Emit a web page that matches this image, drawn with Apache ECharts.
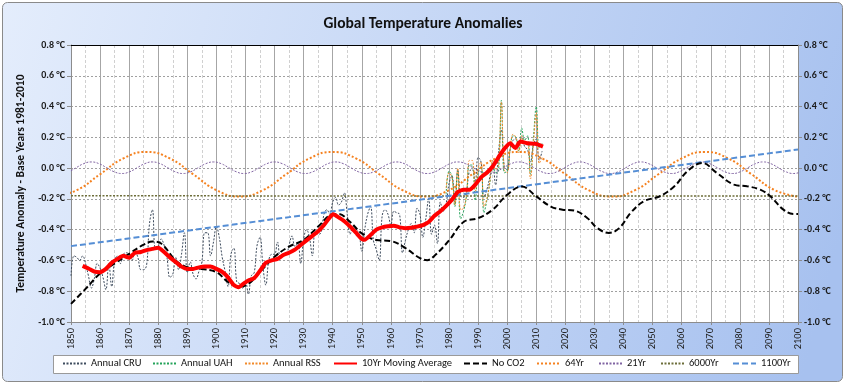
<!DOCTYPE html>
<html><head><meta charset="utf-8">
<script src="https://cdn.jsdelivr.net/npm/echarts@6/dist/echarts.min.js"></script>
<style>html,body{margin:0;padding:0;background:#fff}#c{width:846px;height:386px}</style>
</head><body><div id="c"></div>
<script>
// ---------- DATA ----------
const titleText = 'Global Temperature Anomalies';
const yAxisTitle = 'Temperature Anomaly - Base Years 1981-2010';
const seriesNames = ['Annual CRU','Annual UAH','Annual RSS','10Yr Moving Average','No CO2','64Yr','21Yr','6000Yr','1100Yr'];

const cruStart = 1850;
const cruValues = [
 -0.70,-0.57,-0.58,-0.60,-0.57,-0.62,-0.70,-0.78,-0.72,-0.62,
 -0.65,-0.71,-0.79,-0.62,-0.77,-0.60,-0.57,-0.62,-0.56,-0.55,
 -0.56,-0.60,-0.54,-0.58,-0.66,-0.66,-0.63,-0.36,-0.27,-0.52,
 -0.51,-0.46,-0.50,-0.58,-0.71,-0.69,-0.58,-0.66,-0.56,-0.42,
 -0.68,-0.61,-0.69,-0.72,-0.67,-0.61,-0.42,-0.42,-0.57,-0.48,
 -0.38,-0.45,-0.58,-0.67,-0.77,-0.56,-0.52,-0.74,-0.75,-0.78,
 -0.74,-0.82,-0.70,-0.68,-0.50,-0.45,-0.64,-0.76,-0.60,-0.56,
 -0.56,-0.48,-0.58,-0.56,-0.56,-0.50,-0.44,-0.51,-0.49,-0.62,
 -0.46,-0.40,-0.45,-0.57,-0.41,-0.43,-0.42,-0.30,-0.27,-0.30,
 -0.22,-0.19,-0.24,-0.22,-0.16,-0.30,-0.43,-0.38,-0.40,-0.42,
 -0.54,-0.40,-0.30,-0.25,-0.47,-0.53,-0.60,-0.31,-0.27,-0.30,
 -0.37,-0.28,-0.29,-0.30,-0.55,-0.47,-0.40,-0.36,-0.42,-0.26,
 -0.30,-0.45,-0.33,-0.20,-0.43,-0.37,-0.49,-0.22,-0.28,-0.23,
 -0.10,-0.05,-0.22,-0.01,-0.18,-0.19,-0.15,-0.02,-0.01,-0.09,
 0.07,0.04,-0.19,-0.14,-0.06,0.03,-0.11,0.10,0.25,0.01,
 -0.01,0.12,0.18,0.19,0.16,0.20,0.14,0.12,0.04,0.15,
 0.19,0.05,0.11
];

const satStart = 1979;
const uahValues = [-0.17,-0.02,-0.05,-0.25,-0.02,-0.33,-0.28,-0.18,0.02,0.02,
 -0.21,-0.03,0.01,-0.29,-0.21,-0.10,0.03,-0.03,-0.02,0.44,
 -0.03,-0.02,0.12,0.21,0.20,0.11,0.26,0.18,0.21,-0.04,
 0.19,0.40,0.13,0.16];
const rssValues = [-0.13,-0.03,-0.06,-0.24,0.00,-0.27,-0.26,-0.17,0.05,0.05,
 -0.15,0.00,0.04,-0.25,-0.20,-0.09,0.05,-0.01,0.02,0.43,
 -0.01,-0.03,0.12,0.22,0.20,0.10,0.21,0.16,0.17,-0.07,
 0.15,0.36,0.03,0.07];

const maYears = [1854,1856,1858,1860,1862,1864,1866,1868,1870,1872,1874,1876,1878,1880,1882,1884,1886,1888,1890,1892,1894,1896,1898,1900,1902,1904,1906,1907.7,1909,1911,1913,1915,1917,1919,1921,1923,1925,1927,1929,1931,1933,1935,1937,1939,1940.2,1942,1944,1946,1948,1950,1951,1953,1955,1957,1959,1961,1963,1965,1967,1969,1971,1973,1975,1977,1979,1981,1983,1985,1987,1989,1991,1993,1995,1997,1999,2001,2002.8,2004.5,2006.8,2009.7,2012.3];
const maValues = [-0.635,-0.652,-0.672,-0.676,-0.655,-0.615,-0.59,-0.57,-0.583,-0.55,-0.545,-0.533,-0.525,-0.518,-0.545,-0.58,-0.61,-0.64,-0.655,-0.655,-0.645,-0.64,-0.64,-0.655,-0.675,-0.71,-0.76,-0.774,-0.755,-0.73,-0.715,-0.667,-0.615,-0.60,-0.59,-0.565,-0.55,-0.53,-0.50,-0.47,-0.44,-0.41,-0.37,-0.32,-0.30,-0.32,-0.345,-0.38,-0.42,-0.46,-0.465,-0.435,-0.40,-0.385,-0.378,-0.374,-0.385,-0.39,-0.387,-0.38,-0.37,-0.35,-0.31,-0.28,-0.245,-0.205,-0.155,-0.14,-0.14,-0.108,-0.06,-0.03,0.01,0.07,0.125,0.162,0.13,0.173,0.162,0.158,0.14];

const noCo2Years = [1850,1855,1860,1865,1870,1875,1878,1881,1886,1890,1895,1900,1904,1907.5,1911,1915,1920,1925,1930,1935,1940,1942,1946,1950,1955,1960,1965,1970,1972.5,1975,1980,1985,1990,1995,2000,2005,2010,2015,2019,2023,2027.5,2031,2035,2038.5,2042.5,2047,2052.5,2057.5,2062,2067,2072,2078,2082.5,2087,2090.5,2095,2098.5,2100];
const noCo2Values = [-0.882,-0.785,-0.685,-0.62,-0.557,-0.497,-0.477,-0.49,-0.60,-0.644,-0.655,-0.676,-0.74,-0.77,-0.752,-0.674,-0.576,-0.51,-0.467,-0.38,-0.30,-0.298,-0.35,-0.424,-0.467,-0.474,-0.52,-0.585,-0.598,-0.57,-0.47,-0.35,-0.325,-0.27,-0.173,-0.12,-0.184,-0.25,-0.27,-0.276,-0.324,-0.39,-0.421,-0.39,-0.29,-0.215,-0.183,-0.118,-0.02,0.034,-0.03,-0.107,-0.118,-0.14,-0.183,-0.27,-0.298,-0.298];

// 64-year cycle, read every 8 years starting at the 1844 trough
const cyc64Start = 1844, cyc64Step = 8;
const cyc64Values = [
 -0.185,-0.143,-0.04,0.063,0.105,0.063,-0.04,-0.143,
 -0.185,-0.143,-0.04,0.063,0.105,0.063,-0.04,-0.143,
 -0.185,-0.143,-0.04,0.063,0.105,0.063,-0.04,-0.143,
 -0.185,-0.143,-0.04,0.063,0.105,0.063,-0.04,-0.143,
 -0.185];

// 21-year cycle, read every 2.625 years starting at the 1846.5 trough
const cyc21Start = 1846.5, cyc21Step = 2.625;
const cyc21Values = [
 -0.035,-0.024,0.0025,0.029,0.04,0.029,0.0025,-0.024,
 -0.035,-0.024,0.0025,0.029,0.04,0.029,0.0025,-0.024,
 -0.035,-0.024,0.0025,0.029,0.04,0.029,0.0025,-0.024,
 -0.035,-0.024,0.0025,0.029,0.04,0.029,0.0025,-0.024,
 -0.035,-0.024,0.0025,0.029,0.04,0.029,0.0025,-0.024,
 -0.035,-0.024,0.0025,0.029,0.04,0.029,0.0025,-0.024,
 -0.035,-0.024,0.0025,0.029,0.04,0.029,0.0025,-0.024,
 -0.035,-0.024,0.0025,0.029,0.04,0.029,0.0025,-0.024,
 -0.035,-0.024,0.0025,0.029,0.04,0.029,0.0025,-0.024,
 -0.035,-0.024,0.0025,0.029,0.04,0.029,0.0025,-0.024,
 -0.035,-0.024,0.0025,0.029,0.04,0.029,0.0025,-0.024,
 -0.035,-0.024,0.0025,0.029,0.04,0.029,0.0025,-0.024,
 -0.035,-0.024];

const cyc6000Years = [1850, 2100];
const cyc6000Values = [-0.18, -0.182];
const cyc1100Years = [1850, 2100];
const cyc1100Values = [-0.507, 0.121];

// ---------- LAYOUT / STYLE ----------
const FONT = 'Carlito, "Liberation Sans", Arial, sans-serif';
const legendLefts = [62,152,244,333,463,536,598,660,732];

function seq(start, vals){ return vals.map((v,i)=>[start+i, v]); }
function stepSeq(start, step, vals){ return vals.map((v,i)=>[start+i*step, v]); }
function pairs(xs, ys){ return xs.map((x,i)=>[x, ys[i]]); }

const fmtY = v => (Math.abs(v) < 1e-9 ? 0 : v).toFixed(1) + ' \u00B0C';

const yAxisBase = {
  type:'value', min:-1, max:0.8, interval:0.2,
  axisLine:{show:true, lineStyle:{color:'#8c8c8c'}},
  axisTick:{show:true, length:4, lineStyle:{color:'#8c8c8c'}},
  axisLabel:{formatter:fmtY, fontFamily:FONT, fontSize:10, fontWeight:'bold', color:'#1a1a1a', margin:6}
};

const chart = echarts.init(document.getElementById('c'), null, {renderer:'canvas'});
const option = {
  animation:false,
  title:{text:titleText, left:'center', top:11,
    textStyle:{fontFamily:FONT, fontSize:15.5, fontWeight:'bold', color:'#111'}},
  graphic:[
    {type:'rect', z:-100, shape:{x:2.5,y:2.5,width:840,height:379,r:5},
      style:{fill:new echarts.graphic.LinearGradient(0,0,1,0.6,[{offset:0,color:'#e4edfc'},{offset:1,color:'#a7c1ef'}]), stroke:'#8a8a8a', lineWidth:1}},
    {type:'rect', z:-50, shape:{x:53.5,y:355.5,width:745,height:18},
      style:{fill:'#ffffff', stroke:'#9a9a9a', lineWidth:1}}
  ],
  grid:{left:71, right:48, top:45, bottom:64, show:true, backgroundColor:'#ffffff', borderWidth:0},
  legend: seriesNames.map((n,i)=>({
    data:[n], left:legendLefts[i], top:358, padding:0, itemWidth:23, itemHeight:12,
    selectedMode:false, itemStyle:{color:'rgba(0,0,0,0)', borderWidth:0, opacity:0},
    textStyle:{fontFamily:FONT, fontSize:10.5, color:'#111'}
  })),
  xAxis:[{
    type:'value', min:1850, max:2100, interval:10,
    axisLine:{show:true, onZero:false, lineStyle:{color:'#8c8c8c'}},
    axisTick:{show:true, length:3, lineStyle:{color:'#8c8c8c'}},
    axisLabel:{rotate:90, fontFamily:FONT, fontSize:10.5, color:'#222', margin:6, formatter:v=>String(v)},
    splitLine:{show:true, lineStyle:{color:'#a6a6a6', width:1}},
    minorTick:{show:false, splitNumber:2},
    minorSplitLine:{show:true, lineStyle:{color:'#d0d0d0', type:[3,2]}}
  },{
    type:'value', min:1850, max:2100, position:'top',
    axisLine:{show:true, onZero:false, lineStyle:{color:'#000', width:1.2}},
    axisTick:{show:false}, axisLabel:{show:false}, splitLine:{show:false}
  }],
  yAxis:[
    Object.assign({}, yAxisBase, {position:'left',
      name:yAxisTitle, nameLocation:'middle', nameGap:40,
      nameTextStyle:{fontFamily:FONT, fontSize:11.5, fontWeight:'bold', color:'#111'},
      splitLine:{show:true, lineStyle:{color:'#a0a0a0', type:[2,2]}}}),
    Object.assign({}, yAxisBase, {position:'right', splitLine:{show:false}})
  ],
  series:[
    {name:seriesNames[0], type:'line', data:seq(cruStart,cruValues), smooth:0.4, symbol:'none', z:3,
      lineStyle:{color:'#3e4c5e', width:1, type:[2,1.5]}, itemStyle:{color:'#222'}},
    {name:seriesNames[1], type:'line', data:seq(satStart,uahValues), smooth:0.4, symbol:'none', z:3,
      lineStyle:{color:'#24a35a', width:1, type:[2,1.5]}, itemStyle:{color:'#24a35a'}},
    {name:seriesNames[2], type:'line', data:seq(satStart,rssValues), smooth:0.4, symbol:'none', z:3,
      lineStyle:{color:'#f28a2a', width:1, type:[2,1.5]}, itemStyle:{color:'#f28a2a'}},
    {name:seriesNames[3], type:'line', data:pairs(maYears,maValues), smooth:0.2, symbol:'none', z:6,
      lineStyle:{color:'#ff0000', width:4}, itemStyle:{color:'#ff0000'}},
    {name:seriesNames[4], type:'line', data:pairs(noCo2Years,noCo2Values), smooth:0.4, symbol:'none', z:5,
      lineStyle:{color:'#000000', width:2, type:[6,3]}, itemStyle:{color:'#000'}},
    {name:seriesNames[5], type:'line', data:stepSeq(cyc64Start,cyc64Step,cyc64Values), smooth:0.5, symbol:'none', z:4,
      lineStyle:{color:'#f58220', width:2, type:[2,2]}, itemStyle:{color:'#f58220'}},
    {name:seriesNames[6], type:'line', data:stepSeq(cyc21Start,cyc21Step,cyc21Values), smooth:0.5, symbol:'none', z:4,
      lineStyle:{color:'#8064a2', width:1, type:[2,1.5]}, itemStyle:{color:'#8064a2'}},
    {name:seriesNames[7], type:'line', data:pairs(cyc6000Years,cyc6000Values), symbol:'none', z:4,
      lineStyle:{color:'#6d6e3a', width:1.5, type:[2,1.5]}, itemStyle:{color:'#6d6e3a'}},
    {name:seriesNames[8], type:'line', data:pairs(cyc1100Years,cyc1100Values), symbol:'none', z:4,
      lineStyle:{color:'#558ed5', width:2, type:[6,3]}, itemStyle:{color:'#558ed5'}}
  ]
};
chart.setOption(option);
</script></body></html>
